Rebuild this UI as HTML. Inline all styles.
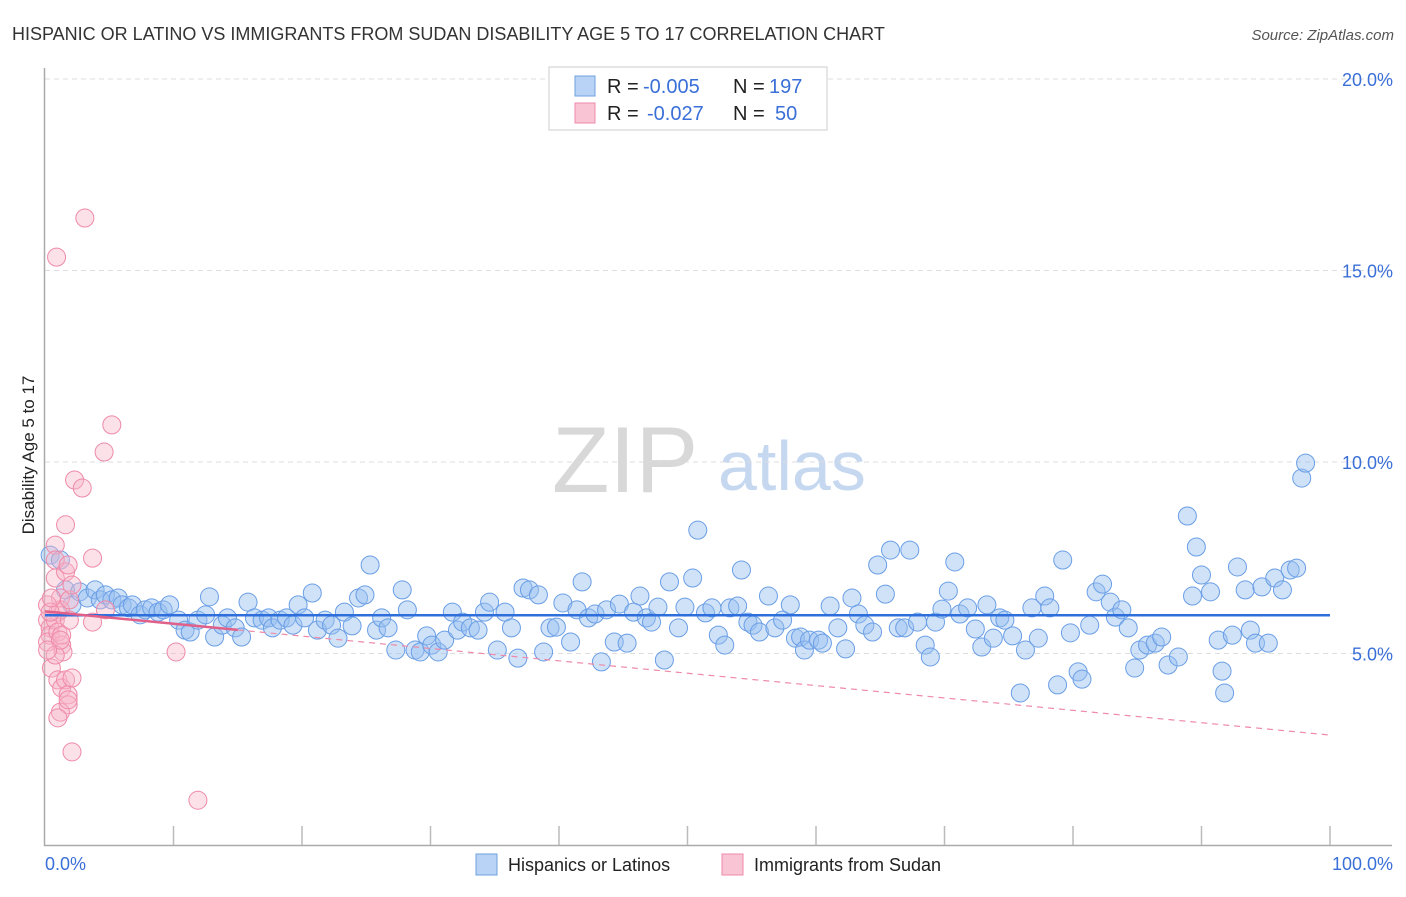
<!DOCTYPE html>
<html><head><meta charset="utf-8"><style>
body{margin:0;background:#fff;font-family:"Liberation Sans",sans-serif;}
svg text{font-family:"Liberation Sans",sans-serif;}
</style></head><body>
<svg id="chart" width="1406" height="892" xmlns="http://www.w3.org/2000/svg">
<text x="12" y="40" font-size="18" fill="#333">HISPANIC OR LATINO VS IMMIGRANTS FROM SUDAN DISABILITY AGE 5 TO 17 CORRELATION CHART</text>
<text x="1394" y="40" font-size="15" fill="#555" font-style="italic" text-anchor="end">Source: ZipAtlas.com</text>
<g>
<text x="552" y="492" font-size="94" fill="#d8d8d8" font-family="Liberation Serif,serif">ZIP</text>
<text x="718" y="490" font-size="70" fill="#c5d8f0">atlas</text>
</g>
<g id="grid"></g>
<g id="axes"></g>
<g id="pts"></g>
<g id="trend"></g>
<text transform="translate(34,455) rotate(-90)" font-size="17" fill="#222" text-anchor="middle">Disability Age 5 to 17</text>
<text x="45" y="870" font-size="18" fill="#3a6fd8">0.0%</text>
<text x="1393" y="870" font-size="18" fill="#3a6fd8" text-anchor="end">100.0%</text>
<g>
<rect x="549" y="67" width="278" height="63" fill="#fff" stroke="#ccc"/>
<rect x="575" y="76" width="20" height="20" fill="#b8d3f5" stroke="#6fa0e0"/>
<rect x="575" y="103" width="20" height="20" fill="#f9c4d3" stroke="#ee8aa8"/>
<text x="607" y="93" font-size="20" fill="#222">R =</text>
<text x="643" y="93" font-size="20" fill="#3a6fd8">-0.005</text>
<text x="733" y="93" font-size="20" fill="#222">N =</text>
<text x="769" y="93" font-size="20" fill="#3a6fd8">197</text>
<text x="607" y="120" font-size="20" fill="#222">R =</text>
<text x="647" y="120" font-size="20" fill="#3a6fd8">-0.027</text>
<text x="733" y="120" font-size="20" fill="#222">N =</text>
<text x="775" y="120" font-size="20" fill="#3a6fd8">50</text>
</g>
<g>
<rect x="476" y="854" width="21" height="21" fill="#b8d3f5" stroke="#6fa0e0"/>
<text x="508" y="871" font-size="18" fill="#222">Hispanics or Latinos</text>
<rect x="722" y="854" width="21" height="21" fill="#f9c4d3" stroke="#ee8aa8"/>
<text x="754" y="871" font-size="18" fill="#222">Immigrants from Sudan</text>
</g>
</svg>
<script>
const yTicks=[5,10,15,20];
const yTickLabels=["5.0%","10.0%","15.0%","20.0%"];
const blueX=[0.4,1.2,1.6,2.1,2.7,3.3,3.9,4.3,4.7,5.2,5.7,6.0,6.5,6.8,7.4,7.8,8.3,8.8,9.2,9.7,10.4,10.9,11.3,11.9,12.5,12.8,13.2,13.8,14.2,14.8,15.3,15.8,16.3,16.9,17.4,17.7,18.3,18.8,19.3,19.7,20.2,20.8,21.2,21.8,22.3,22.8,23.3,23.9,24.4,24.9,25.3,25.8,26.2,26.7,27.3,27.8,28.2,28.8,29.2,29.7,30.1,30.6,31.1,31.7,32.1,32.5,33.1,33.7,34.2,34.6,35.2,35.8,36.3,36.8,37.2,37.7,38.4,38.8,39.3,39.8,40.3,40.9,41.4,41.8,42.3,42.8,43.3,43.7,44.3,44.7,45.3,45.8,46.3,46.8,47.2,47.7,48.2,48.6,49.3,49.8,50.4,50.8,51.4,51.9,52.4,52.9,53.3,53.9,54.2,54.7,55.1,55.6,56.3,56.8,57.4,58.0,58.4,58.8,59.1,59.5,60.2,60.5,61.1,61.7,62.3,62.8,63.3,63.8,64.4,64.8,65.4,65.8,66.4,66.9,67.3,67.9,68.5,68.9,69.3,69.8,70.3,70.8,71.2,71.8,72.4,72.9,73.3,73.8,74.3,74.7,75.3,75.9,76.3,76.8,77.3,77.8,78.2,78.8,79.2,79.8,80.4,80.7,81.3,81.8,82.3,82.9,83.3,83.8,84.3,84.8,85.2,85.8,86.4,86.9,87.4,88.2,88.9,89.3,89.6,90.0,90.7,91.3,91.6,91.8,92.4,92.8,93.4,93.8,94.2,94.7,95.2,95.7,96.3,96.9,97.4,97.8,98.1];
const blueY=[7.57,7.44,6.66,6.27,6.61,6.45,6.66,6.40,6.53,6.40,6.45,6.27,6.19,6.27,6.01,6.14,6.19,6.08,6.14,6.27,5.87,5.61,5.56,5.87,6.01,6.48,5.43,5.74,5.93,5.67,5.43,6.34,5.93,5.87,5.93,5.67,5.87,5.93,5.74,6.27,5.93,6.58,5.61,5.87,5.74,5.40,6.08,5.72,6.45,6.53,7.31,5.61,5.93,5.67,5.09,6.66,6.14,5.09,5.04,5.46,5.22,5.04,5.35,6.08,5.61,5.82,5.67,5.61,6.08,6.34,5.09,6.08,5.67,4.88,6.71,6.66,6.53,5.04,5.67,5.69,6.32,5.30,6.14,6.87,5.93,6.03,4.78,6.14,5.30,6.29,5.27,6.08,6.50,5.93,5.82,6.21,4.83,6.87,5.67,6.21,6.97,8.22,6.06,6.19,5.48,5.22,6.19,6.24,7.18,5.82,5.74,5.56,6.50,5.67,5.87,6.27,5.40,5.43,5.09,5.35,5.35,5.27,6.24,5.67,5.12,6.45,6.03,5.74,5.56,7.31,6.55,7.70,5.67,5.67,7.70,5.82,5.22,4.91,5.82,6.16,6.63,7.39,6.03,6.19,5.64,5.17,6.27,5.40,5.93,5.87,5.46,3.97,5.09,6.19,5.40,6.50,6.19,4.18,7.44,5.54,4.52,4.33,5.74,6.61,6.81,6.34,5.95,6.14,5.67,4.62,5.09,5.22,5.27,5.43,4.70,4.91,8.59,6.50,7.78,7.05,6.61,5.35,4.54,3.97,5.48,7.26,6.66,5.61,5.27,6.74,5.27,6.97,6.66,7.18,7.23,9.58,9.97];
const pinkX=[0.8,0.8,0.8,1.0,1.2,1.2,0.2,0.4,0.4,0.2,0.5,0.8,1.0,1.3,1.4,1.6,1.6,1.8,1.9,2.1,1.9,3.7,1.0,1.3,1.6,1.8,1.8,2.1,1.2,1.0,2.1,1.3,0.8,0.2,0.4,0.5,1.2,4.7,3.7,0.2,2.3,2.9,4.6,5.2,0.9,3.1,10.2,11.9,1.8];
const pinkY=[7.83,7.44,6.97,6.08,6.45,6.14,5.87,5.67,5.48,5.30,4.62,5.87,5.56,5.22,5.04,8.36,7.13,7.31,6.40,6.79,5.87,7.49,4.31,4.10,4.31,3.92,3.66,4.36,3.47,3.32,2.43,5.48,4.96,6.27,6.08,6.45,5.35,6.14,5.82,5.09,9.53,9.32,10.26,10.97,15.35,16.37,5.04,1.17,3.79];
const blueTrend=[6.0,6.0];
const pinkTrend=[6.1,2.87];
const NS="http://www.w3.org/2000/svg";
const X0=45,X1=1330,Y0=845,PPU=38.3;
function sx(v){return X0+(X1-X0)*v/100;}
function sy(v){return Y0-v*PPU;}
function mk(tag,attrs,parent){const e=document.createElementNS(NS,tag);for(const k in attrs)e.setAttribute(k,attrs[k]);parent.appendChild(e);return e;}
const grid=document.getElementById('grid'),axes=document.getElementById('axes'),pts=document.getElementById('pts'),trend=document.getElementById('trend');
yTicks.forEach((t,i)=>{
  const l=mk('line',{x1:45,x2:1392,y1:sy(t),y2:sy(t),stroke:'#ddd','stroke-dasharray':'5,4'},grid);
  
  
  const tx=mk('text',{x:1393,y:sy(t)+7,'font-size':18,fill:'#3a6fd8','text-anchor':'end'},grid);
  tx.textContent=yTickLabels[i];
  
  
});
const ax=mk('path',{d:'M44.5 68 V845.5 H1392',fill:'none',stroke:'#aaa','stroke-width':1.5},axes);


for(let i=1;i<=10;i++){
  const t=mk('line',{x1:sx(i*10),x2:sx(i*10),y1:826,y2:845,stroke:'#bbb','stroke-width':1.5},axes);
  
  
}
blueX.forEach((x,i)=>{
  const c=mk('circle',{cx:sx(x),cy:sy(blueY[i]),r:9,fill:'rgba(150,190,240,0.45)',stroke:'#6a9ee6','stroke-width':1},pts);
  
  
});
pinkX.forEach((x,i)=>{
  const c=mk('circle',{cx:sx(x),cy:sy(pinkY[i]),r:9,fill:'rgba(248,180,200,0.4)',stroke:'#ee8aa8','stroke-width':1},pts);
  
  
});
const bt=mk('line',{x1:sx(0),x2:sx(100),y1:sy(blueTrend[0]),y2:sy(blueTrend[1]),stroke:'#2f6fdc','stroke-width':2.5},trend);


const pAt=v=>pinkTrend[0]+(pinkTrend[1]-pinkTrend[0])*v/100;
const pd=mk('line',{x1:sx(15),x2:sx(100),y1:sy(pAt(15)),y2:sy(pAt(100)),stroke:'#ee8aa8','stroke-width':1.2,'stroke-dasharray':'6,5'},trend);


const ps=mk('line',{x1:sx(0),x2:sx(15),y1:sy(pAt(0)),y2:sy(pAt(15)),stroke:'#e0608a','stroke-width':2.5},trend);


</script>
</body></html>
